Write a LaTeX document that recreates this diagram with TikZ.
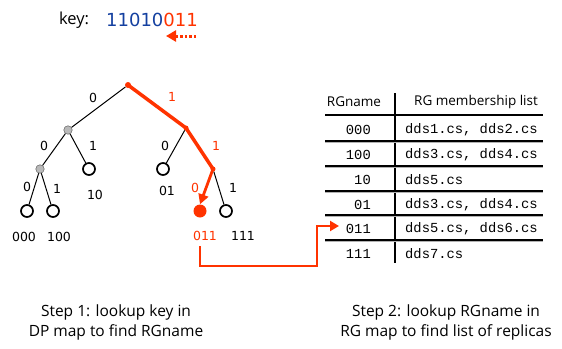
\documentclass[tikz,border=0pt]{standalone}
\usepackage{fontspec}
\setmainfont{Open Sans}
\newfontfamily\courfont{Liberation Mono}
\newfontfamily\digitfont{DejaVu Sans}
\usetikzlibrary{arrows.meta}
\definecolor{hl}{RGB}{255,51,0}
\definecolor{keyblue}{RGB}{20,64,160}
\tikzset{
  leaf/.style={circle,draw,line width=1.7pt,fill=white,minimum size=12pt,inner sep=0pt},
  inner/.style={circle,draw=black!70,fill=gray!55,line width=0.4pt,minimum size=8.5pt,inner sep=0pt},
  hitmark/.style={circle,fill=hl,minimum size=6pt,inner sep=0pt},
  hit/.style={circle,fill=hl,minimum size=13pt,inner sep=0pt},
  edge/.style={line width=1pt},
  redpath/.style={draw=hl,line width=3.5pt,line cap=round},
  bit/.style={font=\digitfont\fontsize{12.5}{14}\selectfont,inner sep=0pt},
  rowtext/.style={font=\courfont\fontsize{13.8}{15}\selectfont,inner sep=1pt},
  headtext/.style={font=\fontsize{13.5}{15}\selectfont,inner sep=0pt},
  rule/.style={line width=1.4pt},
  shade/.style={line width=1pt,draw=gray!60},
  caption/.style={font=\fontsize{15.5}{20}\selectfont,align=center,inner sep=0pt},
  conn/.style={draw=hl,line width=2.4pt,-{Triangle[length=9pt,width=10pt]}},
}
\begin{document}
\begin{tikzpicture}[x=1pt,y=-1pt]
\useasboundingbox (0,0) rectangle (562,348);

% key
\node[font=\fontsize{16.5}{18}\selectfont,inner sep=0pt] (keylbl) at (74,20) {key:};
\node[font=\digitfont\fontsize{18}{20}\selectfont,inner sep=0pt] (keybits) at (152,20)
  {\textcolor{keyblue}{11010}\textcolor{hl}{011}};
\coordinate (dotA) at (196,36);
\coordinate (dotB) at (166,36);
\draw[hl,line width=3pt,dash pattern=on 2.5pt off 2pt,-{Triangle[length=10pt,width=11pt]}] (dotA) -- (dotB);

% tree nodes
\node[hitmark] (root) at (128,85) {};
\node[inner] (n0) at (68,130) {};
\node[hitmark,minimum size=5pt] (n1) at (186,128) {};
\node[inner] (n00) at (40,169) {};
\node[leaf] (n10) at (89,169) {};
\node[leaf] (n01) at (163,169) {};
\node[hitmark,minimum size=5pt] (n11) at (213,169) {};
\node[leaf] (n000) at (27,211) {};
\node[leaf] (n100) at (53,211) {};
\node[hit] (n011) at (200,211) {};
\node[leaf] (n111) at (226,211) {};

% black edges
\draw[edge] (root) -- (n0);
\draw[edge] (n0) -- (n00);
\draw[edge] (n0) -- (n10);
\draw[edge] (n1) -- (n01);
\draw[edge] (n00) -- (n000);
\draw[edge] (n00) -- (n100);
\draw[edge] (n11) -- (n111);

% highlighted lookup path
\draw[redpath] (root.center) -- (n1.center) -- (n11.center);
\draw[draw=hl,line width=2.8pt,-{Triangle[length=10pt,width=10pt]}] (n11.center) -- (n011.north);

% edge labels
\node[bit] (e1) at (93,98) {0};
\node[bit,text=hl] (e2) at (172,97) {1};
\node[bit] (e3) at (44,146) {0};
\node[bit] (e4) at (93,146) {1};
\node[bit] (e5) at (165,146) {0};
\node[bit,text=hl] (e6) at (216,146) {1};
\node[bit] (e7) at (27,187) {0};
\node[bit] (e8) at (57,189) {1};
\node[bit,text=hl] (e9) at (195,188) {0};
\node[bit] (e10) at (233,188) {1};

% leaf names
\node[bit] (l10) at (95,195) {10};
\node[bit] (l01) at (167,191) {01};
\node[bit] (l000) at (24,237) {000};
\node[bit] (l100) at (59,237) {100};
\node[bit,text=hl] (l011) at (205,236) {011};
\node[bit] (l111) at (243,236) {111};

% table
\node[headtext] (h1) at (354,102) {RGname};
\node[headtext] (h2) at (476,102) {RG membership list};
\coordinate (colT) at (395,93);
\coordinate (colB) at (395,263);
\draw[line width=1.5pt] (colT) -- (colB);
\coordinate (hL) at (325,115);
\coordinate (hR) at (543,115);
\draw[line width=2.6pt] (hL) -- (hR);
\foreach \y in {141,166,191,215,240} {
  \draw[shade] (325,\y+1.6) -- (543,\y+1.6);
  \draw[rule] (325,\y) -- (543,\y);
}
\foreach \n/\y/\name/\list in {
  r1/130/000/{dds1.cs, dds2.cs},
  r2/155/100/{dds3.cs, dds4.cs},
  r3/180/10/{dds5.cs},
  r4/205/01/{dds3.cs, dds4.cs},
  r5/229/011/{dds5.cs, dds6.cs},
  r6/254/111/{dds7.cs}} {
  \node[rowtext,anchor=east] (\n) at (372,\y) {\name};
  \node[rowtext,anchor=west] (\n l) at (404,\y) {\list};
}

% connector from the leaf name to its table row
\coordinate (cs) at (200,246);
\coordinate (ct) at (339,226);
\draw[conn] (cs) -- (200,266) -- (317,266) |- (ct);

% captions
\node[caption] (cap1) at (116,322) {Step 1: lookup key in\\DP map to find RGname};
\node[caption] (cap2) at (446,322) {Step 2: lookup RGname in\\RG map to find list of replicas};
\end{tikzpicture}
\end{document}
